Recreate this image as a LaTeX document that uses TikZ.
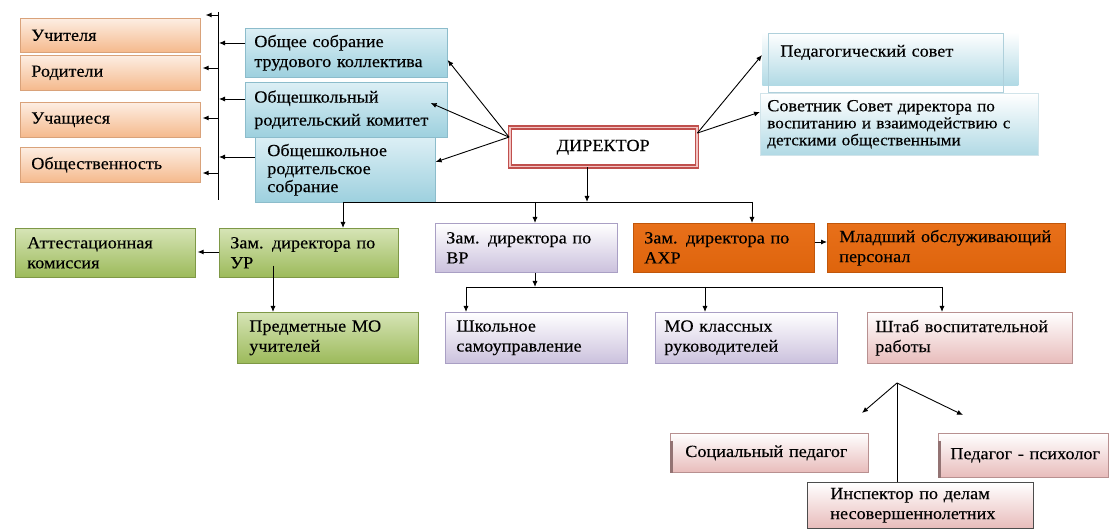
\documentclass[tikz,border=0pt]{standalone}
\usepackage{fontspec}
\setmainfont{Liberation Serif}[FakeStretch=1.07,FakeBold=0.3]
\usetikzlibrary{arrows.meta,calc}
\definecolor{peachT}{HTML}{FDEEE3}
\definecolor{peachB}{HTML}{F5B98C}
\definecolor{peachD}{HTML}{D9A27A}
\definecolor{blueT}{HTML}{DCEFF5}
\definecolor{blueB}{HTML}{9DD0DE}
\definecolor{blueD}{HTML}{8CBCCB}
\definecolor{greenT}{HTML}{D6E4B6}
\definecolor{greenB}{HTML}{9CBA5A}
\definecolor{greenD}{HTML}{7E9846}
\definecolor{purpT}{HTML}{FFFFFF}
\definecolor{purpB}{HTML}{CBC1DD}
\definecolor{purpD}{HTML}{A99FC4}
\definecolor{orT}{HTML}{E8701A}
\definecolor{orM}{HTML}{F39550}
\definecolor{orB}{HTML}{DE640C}
\definecolor{orD}{HTML}{C0560A}
\definecolor{pinkT}{HTML}{FFFFFF}
\definecolor{pinkB}{HTML}{E8BCBB}
\definecolor{pinkD}{HTML}{B89090}
\definecolor{dirred}{HTML}{C0504D}
\definecolor{dirpink}{HTML}{F2C4C3}
\newcommand\mainfs{\fontsize{17}{20}\selectfont}
\tikzset{
  bx/.style={rectangle, anchor=north west, inner xsep=11pt, inner ysep=0pt, align=left, line width=0.6pt, font=\mainfs},
  peach/.style={bx, draw=peachD, top color=peachT, bottom color=peachB},
  bluebox/.style={bx, draw=blueD, top color=blueT, bottom color=blueB},
  lightblue/.style={bx, top color=white, bottom color=blueB!80},
  greenbox/.style={bx, draw=greenD, top color=greenT, bottom color=greenB},
  purpbox/.style={bx, draw=purpD, top color=purpT, bottom color=purpB},
  orbox/.style={bx, draw=orD, top color=orT, middle color=orM, bottom color=orB},
  pinkbox/.style={bx, draw=pinkD, top color=pinkT, bottom color=pinkB},
  dirbox/.style={rectangle, anchor=north west, draw=dirred, line width=1.4pt, double=dirpink, double distance=1.6pt, fill=white, align=center, font=\mainfs},
  arr/.style={-{Latex[length=6pt,width=5pt]}, line width=0.9pt},
  ln/.style={line width=0.9pt},
  frame/.style={draw=blueD!70, line width=0.6pt},
  edgeshade/.style={draw=pinkD!80!black, line width=3pt},
}
\begin{document}
\begin{tikzpicture}[x=1pt,y=-1pt]
\useasboundingbox (0,0) rectangle (1112,529);
\fill[white] (0,0) rectangle (1112,529);

% left column
\node[peach, minimum width=180pt, minimum height=34pt, text width=158pt] (uchit) at (20,18) {Учителя};
\node[peach, minimum width=180pt, minimum height=35pt, text width=158pt] (rodit) at (20,55) {Родители};
\node[peach, minimum width=180pt, minimum height=35pt, text width=158pt] (uchash) at (20,102) {Учащиеся};
\node[peach, minimum width=180pt, minimum height=35pt, text width=158pt] (obshch) at (20,147) {Общественность};

% blue boxes
\node[bluebox, minimum width=202pt, minimum height=49pt, text width=184pt, inner xsep=9pt] (obsob) at (245,28) {Общее собрание\\трудового коллектива};
\node[bluebox, minimum width=202pt, minimum height=55pt, text width=184pt, inner xsep=9pt, font=\fontsize{17}{23}\selectfont] (komitet) at (245,82) {Общешкольный\\родительский комитет};
\node[bluebox, minimum width=180pt, minimum height=65pt, text width=156pt, inner xsep=12pt, font=\fontsize{17}{18}\selectfont] (sobr) at (255,137) {Общешкольное\\родительское\\собрание};

% bus left
\coordinate (vt) at (218,12);
\coordinate (vb) at (218,200);
\draw[ln] (vt) -- (vb);
\draw[arr] (vt |- 0,15) -- ($(uchit.east |- 0,15)+(5,0)$);
\draw[arr] (vt |- 0,68) -- ($(rodit.east |- 0,68)+(2,0)$);
\draw[arr] (vt |- 0,118) -- ($(uchash.east |- 0,118)+(2,0)$);
\draw[arr] (vt |- 0,173) -- ($(obshch.east |- 0,173)+(2,0)$);
\draw[arr] (obsob.west |- 0,43) -- ($(vt |- 0,43)+(1,0)$);
\draw[arr] (komitet.west |- 0,99) -- ($(vt |- 0,99)+(1,0)$);
\draw[arr] (sobr.west |- 0,157) -- ($(vt |- 0,157)+(1,0)$);

% director
\node[dirbox, minimum width=187pt, minimum height=39pt] (dir) at (509,127) {ДИРЕКТОР};
\coordinate (dl) at ($(dir.north west)!0.25!(dir.south west)$);
\coordinate (dr) at ($(dir.north east)!0.15!(dir.south east)$);
\draw[arr] (dl) -- (obsob.east |- 0,60);
\draw[arr] (dl) -- ($(komitet.east |- 0,103)+(-17,0)$);
\draw[arr] (dl) -- (sobr.east |- 0,162);

% right boxes
\node[lightblue, minimum width=256pt, minimum height=53pt, text width=238pt, inner xsep=9pt] (pedsov) at (762,32) {\hspace*{9pt}Педагогический совет\\[-4pt]\mbox{}};
\draw[frame] ($(pedsov.north west)+(6,1)$) rectangle ($(pedsov.south east)+(-15,7)$);
\node[lightblue, draw=blueD!40, minimum width=278pt, minimum height=62pt, text width=264pt, inner xsep=7pt, font=\fontsize{16}{17}\selectfont] (sovet) at (760,93) {{\fontsize{17}{17}\selectfont Советник Совет} директора по\\воспитанию и взаимодействию с\\детскими общественными};
\draw[arr] (dr) -- (pedsov.west |- 0,55);
\draw[arr] (dr) -- (sovet.west |- 0,112);

% first bus
\coordinate (jd) at (587,202);
\coordinate (busL) at (343,202);
\coordinate (busR) at (752,202);
\draw[arr] (dir.south -| jd) -- (jd);
\draw[ln] (busL) -- (busR);

% second row
\node[greenbox, minimum width=180pt, minimum height=49pt, text width=156pt, inner xsep=12pt] (att) at (15,228) {Аттестационная\\комиссия};
\node[greenbox, minimum width=179pt, minimum height=49pt, text width=157pt] (ur) at (219,228) {Зам. директора по\\УР};
\node[greenbox, minimum width=181pt, minimum height=51pt, text width=157pt, inner xsep=12pt] (predmo) at (237,312) {Предметные МО\\учителей};
\node[purpbox, minimum width=182pt, minimum height=49pt, text width=160pt] (vr) at (435,223) {Зам. директора по\\ВР};
\node[orbox, minimum width=181pt, minimum height=49pt, text width=159pt] (ahr) at (633,223) {Зам. директора по\\АХР};
\node[orbox, minimum width=238pt, minimum height=49pt, text width=214pt, inner xsep=12pt] (mlad) at (827,223) {Младший обслуживающий\\персонал};

\draw[arr] (busL) -- (ur.north -| busL);
\draw[arr] (vr.north -| 535,0) ++(0,-21) -- (vr.north -| 535,0);
\draw[arr] (busR) -- (ahr.north -| busR);
\draw[arr] (ur.west |- 0,252) -- ($(att.east |- 0,252)+(2,0)$);
\draw[arr] (ur.south -| 273,0) ++(0,-12) -- (predmo.north -| 273,0);
\draw[arr] (ahr.east |- 0,242) -- (mlad.west |- 0,242);

% second bus
\coordinate (jv) at (535,287);
\coordinate (bus2L) at (466,287);
\coordinate (bus2M) at (705,287);
\coordinate (bus2R) at (942,287);
\draw[arr] (vr.south -| jv) -- (jv);
\draw[ln] (bus2L) -- (bus2R);

% third row
\node[purpbox, minimum width=182pt, minimum height=51pt, text width=160pt, inner xsep=11pt] (shkol) at (445,312) {Школьное\\самоуправление};
\node[purpbox, minimum width=182pt, minimum height=51pt, text width=164pt, inner xsep=9pt] (mokl) at (655,312) {МО классных\\руководителей};
\node[pinkbox, minimum width=205pt, minimum height=51pt, text width=189pt, inner xsep=8pt] (shtab) at (867,312) {Штаб воспитательной\\работы};
\draw[arr] (bus2L) -- (shkol.north -| bus2L);
\draw[arr] (bus2M) -- (mokl.north -| bus2M);
\draw[arr] (bus2R) -- (shtab.north -| bus2R);

% bottom
\node[pinkbox, minimum width=198pt, minimum height=39pt, text width=180pt, inner xsep=9pt] (socped) at (670,433) {\hspace*{6pt}Социальный педагог};
\draw[edgeshade] ($(socped.north west)+(1.5,8)$) -- ($(socped.south west)+(1.5,0)$);
\node[pinkbox, minimum width=170pt, minimum height=44pt, text width=158pt, inner xsep=6pt] (psych) at (938,433) {\hspace*{6pt}Педагог - психолог};
\draw[edgeshade] ($(psych.north west)+(1.5,8)$) -- ($(psych.south west)+(1.5,0)$);
\node[pinkbox, draw=black!70, minimum width=226pt, minimum height=46pt, text width=200pt, inner xsep=13pt] (insp) at (807,482) {\hspace*{10pt}Инспектор по делам\\\hspace*{10pt}несовершеннолетних};
\coordinate (apex) at (897,383);
\coordinate (socA) at (862,413);
\coordinate (psyA) at (963,415);
\draw[arr] (apex) -- (socA);
\draw[arr] (apex) -- (psyA);
\draw[ln] (apex) -- (insp.north -| apex);
\end{tikzpicture}
\end{document}
